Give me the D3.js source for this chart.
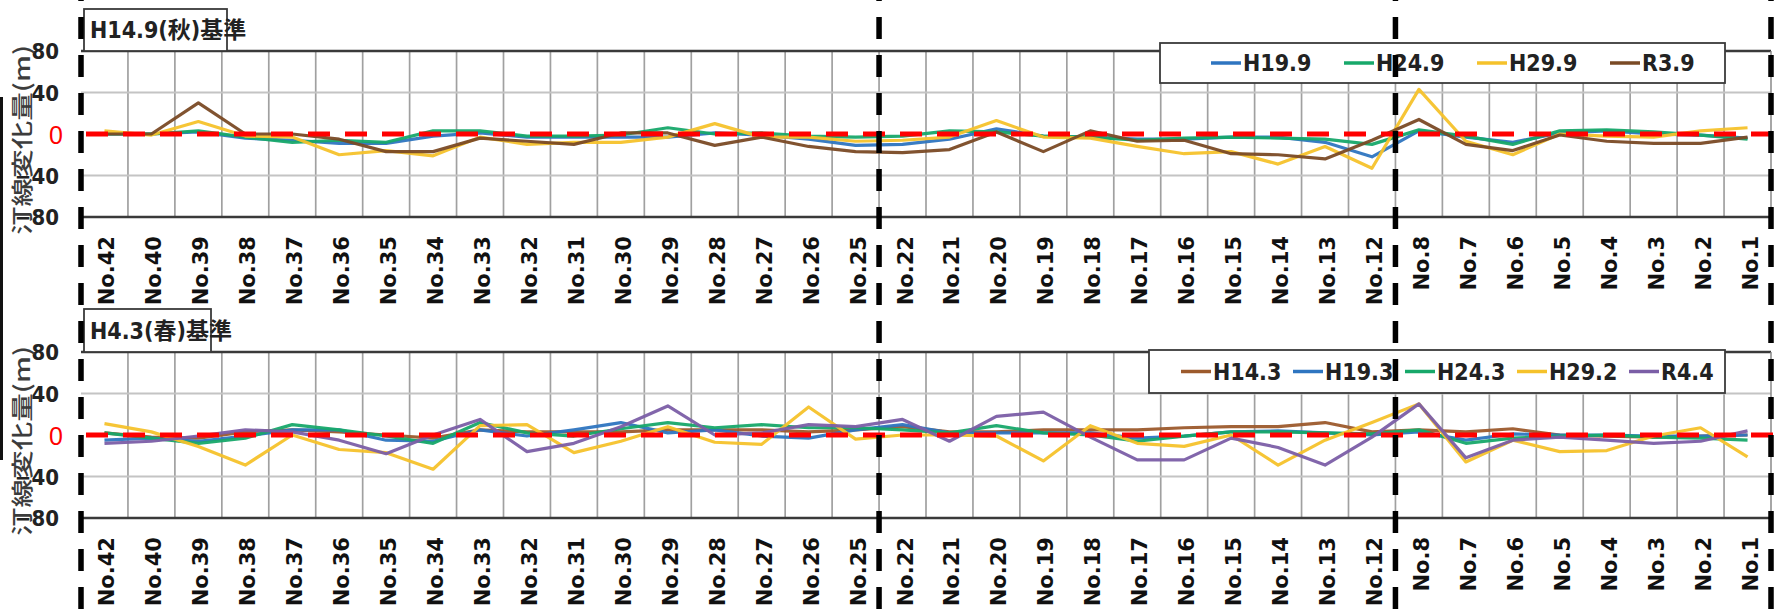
<!DOCTYPE html>
<html><head><meta charset="utf-8">
<script src="https://cdn.jsdelivr.net/npm/d3@7/dist/d3.min.js"></script>
<style>
html,body{margin:0;padding:0;background:#fff;}
svg{display:block;}
.narrow{font-family:"Liberation Sans Narrow","Arial Narrow","DejaVu Sans Condensed","Noto Sans CJK JP",sans-serif;font-weight:bold;}
</style></head><body>
<svg id="chart" width="1784" height="609"></svg>
<script>
// ---------- data ----------
const categories = ["No.42","No.40","No.39","No.38","No.37","No.36","No.35","No.34","No.33","No.32","No.31","No.30","No.29","No.28","No.27","No.26","No.25",
  "No.22","No.21","No.20","No.19","No.18","No.17","No.16","No.15","No.14","No.13","No.12",
  "No.8","No.7","No.6","No.5","No.4","No.3","No.2","No.1"];
const yTicks = [80, 40, 0, -40, -80];
const sectionBreaks = ["No.42","No.22","No.8"]; // dashed section lines at the left edge of these bands (plus right end)

const topTitle = "H14.9(秋)基準";
const topNames = ["H19.9","H24.9","H29.9","R3.9"];
const topH19_9 = [0,0,2,-4,-6,-9,-9,-2,1,-3,-3,-3,-3,1,-1,-5,-11,-10,-5,5,-2,-3,-5,-5,-3,-3,-8,-22,3,-3,-8,1,3,0,-1,-4];
const topH24_9 = [0,0,3,-3,-8,-6,-8,3,3,-2,-2,-1,6,0,1,-2,-3,-2,3,2,-2,-3,-6,-4,-3,-4,-5,-10,4,-2,-10,3,4,2,-1,-5];
const topH29_9 = [3,-1,12,-2,-3,-20,-16,-21,-3,-10,-8,-8,-3,10,-3,-3,-7,-6,-3,13,-3,-4,-12,-19,-17,-29,-12,-33,43,-7,-20,0,-2,-3,3,6];
const topR3_9  = [0,0,30,0,0,-5,-17,-17,-4,-7,-10,1,1,-11,-3,-12,-17,-18,-15,2,-17,3,-7,-6,-19,-20,-24,-6,14,-10,-16,-1,-7,-9,-9,-3];
const topColors = ["#2e75c0","#17a86a","#f5c22b","#7a4a25"];

const botTitle = "H4.3(春)基準";
const botNames = ["H14.3","H19.3","H24.3","H29.2","R4.4"];
const botH14_3 = [2,-2,-3,3,5,3,0,-3,5,3,3,3,5,5,5,3,5,8,3,3,5,5,5,7,8,8,12,3,5,3,6,0,-1,-2,-1,0];
const botH19_3 = [-5,-3,-6,-1,5,5,-5,-6,5,-1,5,12,2,5,-1,-3,5,10,2,2,2,2,-3,-1,3,4,2,0,3,-5,1,0,0,-1,-1,0];
const botH24_3 = [2,-3,-8,-3,10,5,-1,-8,12,2,-1,6,12,7,10,7,7,5,2,9,2,0,-6,-1,3,3,2,1,5,-8,-3,-1,0,-2,-3,-5];
const botH29_2 = [11,3,-11,-29,0,-14,-17,-33,9,10,-17,-6,8,-7,-9,27,-4,0,0,-1,-25,9,-8,-11,0,-29,-5,12,30,-26,-5,-16,-15,-1,7,-21];
const botR4_4  = [-8,-6,-1,5,3,-5,-18,0,15,-16,-8,8,28,0,2,10,8,15,-6,18,22,-2,-24,-24,-3,-12,-29,-2,30,-22,-5,-2,-5,-8,-6,4];
const botColors = ["#9c5a2c","#2e75c0","#17a86a","#f5c22b","#7b5ea6"];

const yTitle = "汀線変化量(m)";

// ---------- layout ----------
const svg = d3.select("#chart");
const X0 = 81, X1 = 1771;
const x = d3.scaleBand().domain(categories).range([X0, X1]).padding(0);
const cx = c => x(c) + x.bandwidth() / 2;

const panels = [
  {title: topTitle, names: topNames, series: [topH19_9, topH24_9, topH29_9, topR3_9], colors: topColors,
   yTop: 51, yBot: 217, box: {x: 84, y: 9, w: 143, h: 42},
   legend: {x: 1160, y: 43, w: 565, h: 40, start: 1211, step: 133}},
  {title: botTitle, names: botNames, series: [botH14_3, botH19_3, botH24_3, botH29_2, botR4_4], colors: botColors,
   yTop: 352, yBot: 518, box: {x: 84, y: 309, w: 127, h: 43},
   legend: {x: 1149, y: 350, w: 576, h: 43, start: 1181, step: 112}}
];

panels.forEach(p => {
  const y = d3.scaleLinear().domain([-80, 80]).range([p.yBot, p.yTop]);
  const g = svg.append("g");

  g.selectAll(".vg").data(categories.slice(1)).join("line")
    .attr("x1", d => x(d)).attr("x2", d => x(d))
    .attr("y1", p.yTop).attr("y2", p.yBot)
    .attr("stroke", "#a0a0a0").attr("stroke-width", 1.7);
  g.selectAll(".hg").data([40, -40]).join("line")
    .attr("x1", X0).attr("x2", X1).attr("y1", d => y(d)).attr("y2", d => y(d))
    .attr("stroke", "#c4c4c4").attr("stroke-width", 2);
  g.selectAll(".fr").data([80, -80]).join("line")
    .attr("x1", X0).attr("x2", X1).attr("y1", d => y(d)).attr("y2", d => y(d))
    .attr("stroke", "#3a3a3a").attr("stroke-width", 2.5);
  g.append("line").attr("x1", X1).attr("x2", X1).attr("y1", p.yTop).attr("y2", p.yBot)
    .attr("stroke", "#888").attr("stroke-width", 1.5);

  const ya = g.append("g").attr("transform", `translate(${X0 - 21},0)`)
    .call(d3.axisLeft(y).tickValues(yTicks).tickSize(0).tickPadding(1).tickFormat(d3.format("d")));
  ya.select(".domain").remove();
  ya.selectAll("text").attr("class", "narrow").attr("font-size", 22).attr("fill", "#222")
    .attr("dy", "0.36em");
  ya.selectAll(".tick").filter(d => d === 0).select("text")
    .attr("fill", "#ff0000").attr("class", null)
    .attr("font-family", "Liberation Sans, Arial, sans-serif").attr("font-weight", "normal")
    .attr("font-size", 25).attr("x", 3);

  g.append("text").text(yTitle)
    .attr("transform", `translate(30,${(p.yTop + p.yBot) / 2 + 6}) rotate(-90) scale(1.3,1)`)
    .attr("text-anchor", "middle")
    .attr("font-family", "Noto Sans CJK JP, sans-serif").attr("font-weight", 500)
    .attr("font-size", 22).attr("fill", "#3c3c3c");

  const xa = g.append("g").attr("transform", `translate(0,${p.yBot})`)
    .call(d3.axisBottom(x).tickSize(0));
  xa.select(".domain").remove();
  xa.selectAll("text")
    .attr("font-family", "DejaVu Sans, sans-serif").attr("font-weight", "bold")
    .attr("font-size", 21).attr("fill", "#111")
    .attr("y", 0).attr("dy", 0)
    .attr("text-anchor", "end")
    .attr("transform", "translate(10,19) rotate(-90)");

  const line = d3.line().x((d, i) => cx(categories[i])).y(d => y(d));
  g.selectAll(".series").data(p.series).join("path")
    .attr("d", line).attr("fill", "none")
    .attr("stroke", (d, i) => p.colors[i]).attr("stroke-width", 3.2)
    .attr("stroke-linejoin", "round").attr("stroke-opacity", 0.95);

  g.append("line").attr("x1", X0 + 5).attr("x2", 1784).attr("y1", y(0)).attr("y2", y(0))
    .attr("stroke", "#ff0000").attr("stroke-width", 5).attr("stroke-dasharray", "22,15");

  g.append("rect").attr("x", p.box.x).attr("y", p.box.y).attr("width", p.box.w).attr("height", p.box.h)
    .attr("fill", "#fff").attr("stroke", "#3a3a3a").attr("stroke-width", 1.8);
  g.append("text").text(p.title).attr("class", "narrow")
    .attr("x", p.box.x + 6).attr("y", p.box.y + p.box.h / 2 + 8)
    .attr("font-size", 23).attr("fill", "#222");

  const L = p.legend;
  g.append("rect").attr("x", L.x).attr("y", L.y).attr("width", L.w).attr("height", L.h)
    .attr("fill", "#fff").attr("stroke", "#3a3a3a").attr("stroke-width", 1.8);
  const li = g.selectAll(".leg").data(p.names).join("g")
    .attr("transform", (d, i) => `translate(${L.start + i * L.step},${L.y + L.h / 2})`);
  li.append("line").attr("x1", 0).attr("x2", 30).attr("y1", 0).attr("y2", 0)
    .attr("stroke", (d, i) => p.colors[i]).attr("stroke-width", 3.5);
  li.append("text").text(d => d).attr("class", "narrow")
    .attr("x", 32).attr("y", 8).attr("font-size", 23).attr("fill", "#222");
});

const breaks = sectionBreaks.map(c => x(c)).concat([X1]);
svg.append("g").selectAll("line").data(breaks).join("line")
  .attr("x1", d => d).attr("x2", d => d).attr("y1", 0).attr("y2", 609)
  .attr("stroke", "#000").attr("stroke-width", 5.5)
  .attr("stroke-dasharray", "22,16").attr("stroke-dashoffset", 21);

svg.append("rect").attr("x", 0).attr("y", 97).attr("width", 3).attr("height", 363).attr("fill", "#111");
</script>
</body></html>
